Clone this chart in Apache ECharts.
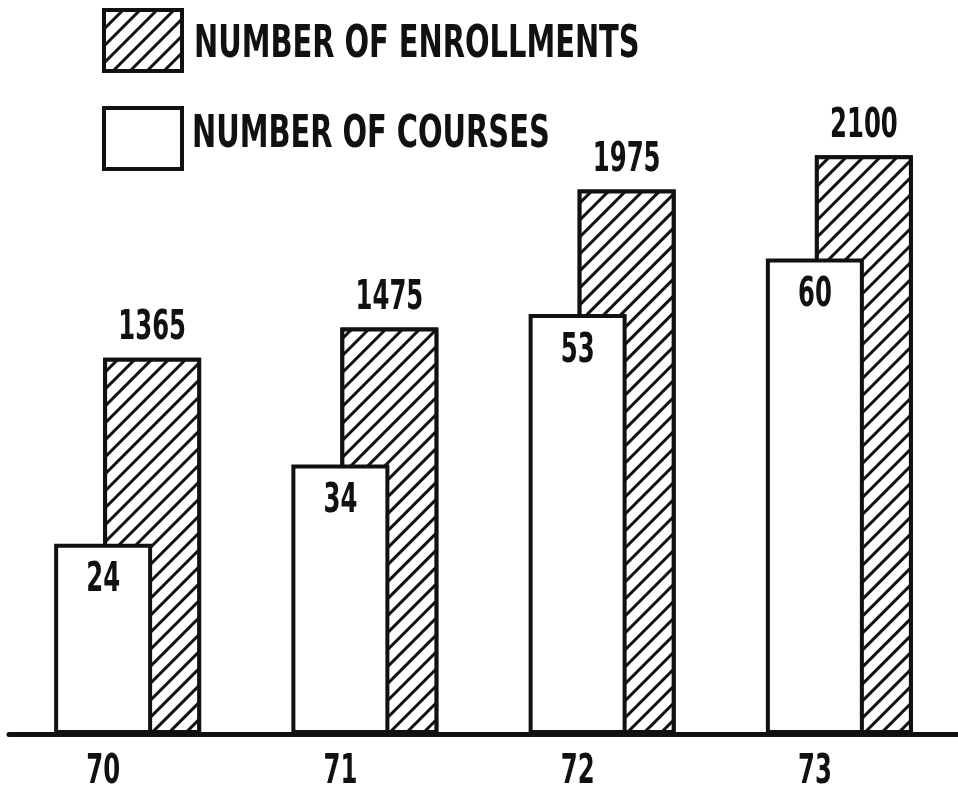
<!DOCTYPE html>
<html>
<head>
<meta charset="utf-8">
<script src="https://cdn.jsdelivr.net/npm/echarts@6/dist/echarts.min.js"></script>
</head>
<body style="margin:0;background:#fff">
<div id="container" style="width:958px;height:794px"></div>
<script>
var years = ['70', '71', '72', '73'];
var courses = [24, 34, 53, 60];
var enrollments = [1365, 1475, 1975, 2100];
var legendNames = ['NUMBER OF ENROLLMENTS', 'NUMBER OF COURSES'];

var BAR_W = 98;
// the typed lettering in the scan is very narrow, so squeeze the condensed font
var FONT = 'bold 41px "DejaVu Sans Condensed", sans-serif';
var SQUEEZE = 0.66;

var chart = echarts.init(document.getElementById('container'));

function squeezedText(text, x, y) {
  return {
    type: 'text', x: x, y: y, scaleX: SQUEEZE,
    style: { text: text, font: FONT, fill: '#111', align: 'center', verticalAlign: 'middle' }
  };
}

// labels for the white (courses) bars, plus the year under each pair
function renderCourseLabels(params, api) {
  var idx = api.value(0);
  var top = api.coord([idx, api.value(1)]);
  var base = api.coord([idx, 0]);
  var dx = -BAR_W / 4;
  return {
    type: 'group',
    children: [
      squeezedText(String(api.value(1)), top[0] + dx, top[1] + 37),
      squeezedText(years[idx], base[0] + dx, base[1] + 38)
    ]
  };
}

// labels above the hatched (enrollment) bars
function renderEnrollLabels(params, api) {
  var idx = api.value(0);
  var top = api.coord([idx, api.value(1)]);
  return squeezedText(String(api.value(1)), top[0] + BAR_W / 4, top[1] - 29);
}

var option = {
  backgroundColor: '#fff',
  animation: false,
  legend: {
    orient: 'vertical',
    left: 102,
    top: 8,
    padding: 0,
    itemWidth: 78,
    itemHeight: 61,
    itemGap: 33,
    icon: 'rect',
    data: legendNames,
    formatter: function () { return ''; },
    itemStyle: { borderColor: '#111', borderWidth: 4 }
  },
  graphic: [
    { type: 'text', left: 194, top: 24, scaleX: 0.73,
      style: { text: legendNames[0], font: 'bold 44px "DejaVu Sans Condensed", sans-serif', fill: '#111' } },
    { type: 'text', left: 192, top: 114, scaleX: 0.73,
      style: { text: legendNames[1], font: 'bold 44px "DejaVu Sans Condensed", sans-serif', fill: '#111' } }
  ],
  grid: { left: 9, right: -8, top: 100, bottom: 60 },
  xAxis: {
    type: 'category',
    data: years,
    axisLine: { lineStyle: { color: '#111', width: 5 } },
    axisTick: { show: false },
    axisLabel: { show: false }
  },
  yAxis: [
    { type: 'value', min: 0, max: 80, show: false, splitLine: { show: false } },
    { type: 'value', min: 0, max: 2300, show: false, splitLine: { show: false } }
  ],
  series: [
    {
      name: legendNames[1],
      type: 'bar',
      yAxisIndex: 0,
      data: courses,
      barWidth: BAR_W,
      barGap: '-50%',
      z: 3,
      itemStyle: { color: '#fff', borderColor: '#111', borderWidth: 4 }
    },
    {
      name: legendNames[0],
      type: 'bar',
      yAxisIndex: 1,
      data: enrollments,
      barWidth: BAR_W,
      barGap: '-50%',
      z: 2,
      itemStyle: {
        color: '#fff', borderColor: '#111', borderWidth: 4,
        decal: {
          symbol: 'rect',
          symbolSize: 1,
          color: '#111',
          backgroundColor: '#fff',
          dashArrayX: [1, 0],
          dashArrayY: [3, 9],
          rotation: -Math.PI / 4
        }
      }
    },
    {
      type: 'custom',
      yAxisIndex: 0,
      z: 5,
      silent: true,
      renderItem: renderCourseLabels,
      data: courses.map(function (v, i) { return [i, v]; })
    },
    {
      type: 'custom',
      yAxisIndex: 1,
      z: 5,
      silent: true,
      renderItem: renderEnrollLabels,
      data: enrollments.map(function (v, i) { return [i, v]; })
    }
  ]
};
chart.setOption(option);
</script>
</body>
</html>
